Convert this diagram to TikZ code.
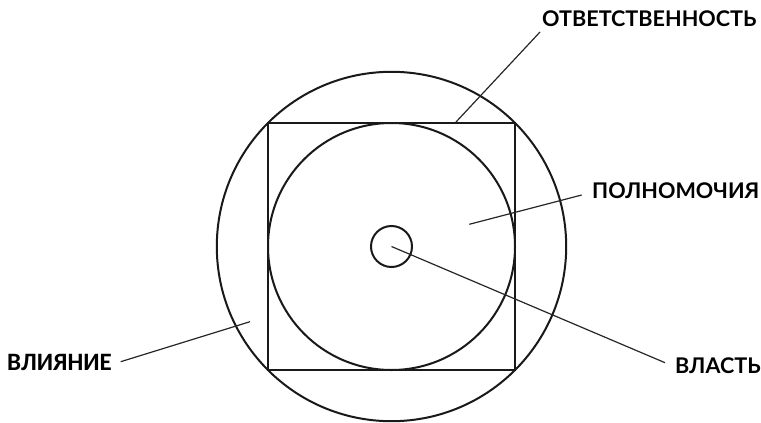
\documentclass[tikz,border=0pt]{standalone}
\usepackage{fontspec}
\setmainfont{Lato}
\newfontfamily\labfont{Lato}[UprightFont=* Bold]
\newfontfamily\calfont{Carlito}[UprightFont=* Bold]
\begin{document}
\begin{tikzpicture}[x=1pt,y=-1pt,
  shape line/.style={line width=2pt,black!90},
  lead/.style={line width=1.2pt,black!85},
  lab/.style={inner sep=0pt,anchor=west,font=\labfont\fontsize{21.6}{22}\selectfont},
  calab/.style={inner sep=0pt,anchor=west,font=\calfont\fontsize{25}{25}\selectfont}]
\useasboundingbox (0,0) rectangle (761,423);
\coordinate (c) at (391.5,246.5);
\node[shape line,draw,circle,minimum size=349.4pt,inner sep=0pt] (outer) at (c) {};
\node[shape line,draw,rectangle,minimum size=247pt,inner sep=0pt] (sq) at (c) {};
\node[shape line,draw,circle,minimum size=247pt,inner sep=0pt] (inner) at (c) {};
\node[shape line,draw,circle,minimum size=41pt,inner sep=0pt] (small) at (c) {};
\node[lab] (otv) at (542,18.5) {ОТВЕТСТВЕННОСТЬ};
\node[lab] (pol) at (592,191) {ПОЛНОМОЧИЯ};
\node[lab] (vla) at (675,365.5) {ВЛАСТЬ};
\node[calab] (vli) at (7,362.5) {ВЛИЯНИЕ};
\coordinate (otvA) at (540,32);
\coordinate (otvB) at (456,122);
\coordinate (polA) at (581.7,195);
\coordinate (polB) at (469.3,224.3);
\coordinate (vlaA) at (665,362.7);
\coordinate (vliA) at (120.7,361.7);
\coordinate (vliB) at (250,321.7);
\draw[lead] (otvA) -- (otvB);
\draw[lead] (polA) -- (polB);
\draw[lead] (c) -- (vlaA);
\draw[lead] (vliA) -- (vliB);
\end{tikzpicture}
\end{document}
